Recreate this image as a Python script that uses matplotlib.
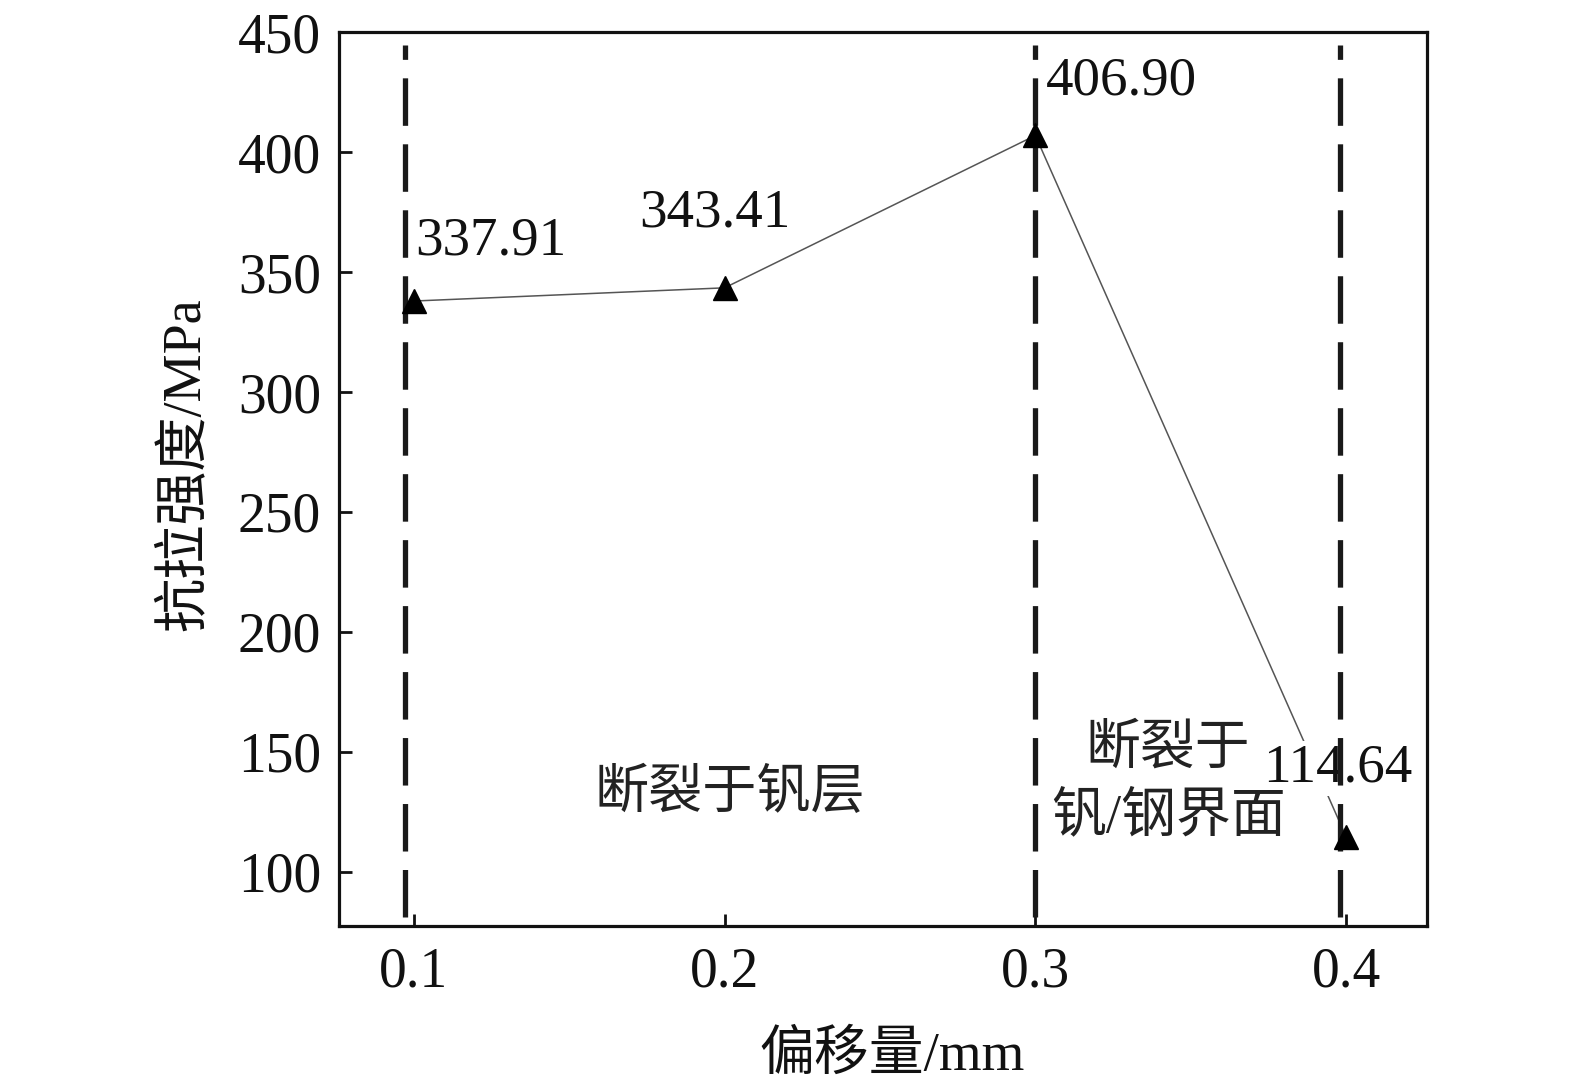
import matplotlib
matplotlib.use("Agg")
import matplotlib.pyplot as plt

offsets = [0.1, 0.2, 0.3, 0.4]
strength = [337.91, 343.41, 406.90, 114.64]
value_labels = ["337.91", "343.41", "406.90", "114.64"]
label_pos = [(0.1003, 357.5), (0.1724, 369.0), (0.3034, 424.0), (0.3732, 137.5)]
boundaries = [0.097, 0.300, 0.398]
xticks = [0.1, 0.2, 0.3, 0.4]
yticks = [100, 150, 200, 250, 300, 350, 400, 450]
region_texts = ["断裂于钒层", "断裂于", "钒/钢界面"]
region_pos = [(0.2017, 132.0), (0.3427, 150.8), (0.3427, 122.5)]
region_sizes = [39, 39.5, 39.5]

FAM = ['Liberation Serif', 'Noto Sans CJK SC', 'DejaVu Sans']
plt.rcParams['font.family'] = FAM

fig = plt.figure(figsize=(15.75, 10.9), dpi=100)
ax = fig.add_axes([0.2152, 0.1505, 0.906 - 0.2152, 0.9706 - 0.1505])

ax.plot(offsets, strength, color='#555555', lw=1.1, zorder=2)
ax.plot(offsets, strength, ls='none', marker='^', ms=17, color='black', zorder=5)

for b in boundaries:
    ax.axvline(b, ymin=0.01, ymax=0.985, color='#1a1a1a', lw=3.8, dashes=(9, 3.5), zorder=4)

for (x, y), s in zip(label_pos, value_labels):
    ax.text(x, y, s, fontsize=39.5, ha='left', va='baseline', color='#111111', zorder=3,
            bbox=dict(facecolor='white', edgecolor='none', pad=1.5))

for (x, y), s, fs in zip(region_pos, region_texts, region_sizes):
    ax.text(x, y, s, fontsize=fs, ha='center', va='center', color='#222222', zorder=3)

ax.set_xlim(0.0759, 0.426)
ax.set_ylim(77.5, 450)
ax.set_xticks(xticks)
ax.set_xticklabels([f"{t:.1f}" for t in xticks])
ax.set_yticks(yticks)
ax.tick_params(direction='in', length=9, width=2, labelsize=40, colors='#111111')
ax.tick_params(axis='y', pad=13)
ax.tick_params(axis='x', pad=15)

for sp in ax.spines.values():
    sp.set_linewidth(2.3)
    sp.set_color('#111111')

fig.text(185 / 1575, 1 - 464 / 1090, "抗拉强度/MPa", rotation=90, fontsize=39,
         ha='center', va='center', color='#111111')
fig.text(892 / 1575, 1 - 1057 / 1090, "偏移量/mm", fontsize=39.5,
         ha='center', va='center', color='#111111')

fig.savefig("out.png", dpi=100, facecolor='white')
